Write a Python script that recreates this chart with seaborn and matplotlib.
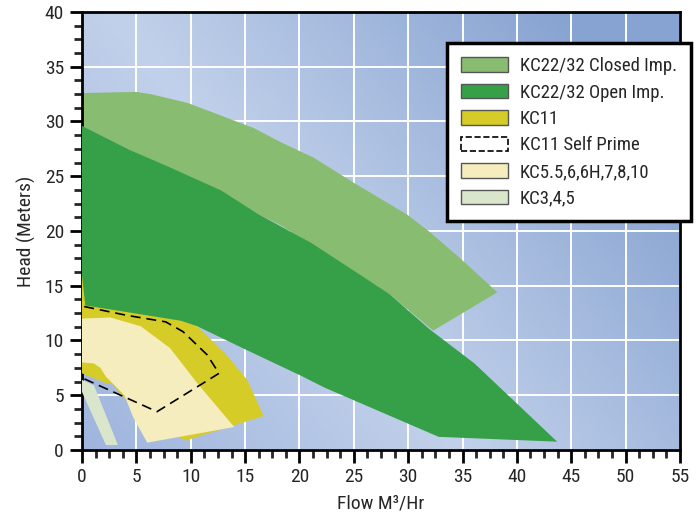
import numpy as np
import matplotlib
matplotlib.use("Agg")
import matplotlib.pyplot as plt
from matplotlib import font_manager
import seaborn as sns
from matplotlib.patches import Patch
from matplotlib.ticker import MultipleLocator

sns.set_style("white")
# pick a narrow sans if one is around
installed = {f.name for f in font_manager.fontManager.ttflist}
narrow = [n for n in ['Roboto Condensed', 'Liberation Sans Narrow', 'Open Sans Condensed',
                      'Liberation Sans'] if n in installed]
plt.rcParams['font.family'] = narrow[:1] + ['DejaVu Sans']

# pump curve envelopes (flow m3/hr, head m)
closed_x = [0, 5.0, 6.3, 9.7, 12.1, 15.8, 18.3, 21.3, 25.0, 29.9, 32.0, 34.9, 38.2,
            32.3, 28.2, 18.3, 0]
closed_y = [32.6, 32.7, 32.5, 31.7, 30.8, 29.4, 28.1, 26.7, 24.4, 21.5, 19.9, 17.4, 14.4,
            10.9, 14.3, 20.5, 29.6]

open_x = [0, 4.4, 8.1, 12.8, 16.1, 21.1, 28.2, 32.0, 36.1, 43.7, 32.8, 22.3, 20.1,
          15.2, 10.6, 0]
open_y = [29.6, 27.4, 25.8, 23.7, 21.6, 18.9, 14.3, 11.0, 7.9, 0.76, 1.2, 5.7, 6.8,
          9.1, 11.3, 13.2]

kc11_x = [0, 0.3, 9.1, 10.6, 13.1, 15.2, 16.7, 9.5, 5.0, 2.8, 2.2, 0]
kc11_y = [16.0, 13.2, 11.8, 11.3, 8.9, 6.4, 3.1, 0.85, 3.5, 6.0, 6.1, 7.0]

prime_x = [0.2, 4.1, 7.7, 9.3, 11.5, 12.6, 6.9, 0.2]
prime_y = [13.1, 12.3, 11.7, 10.8, 8.7, 7.0, 3.5, 6.5]

kc55_x = [0, 2.6, 5.4, 8.1, 10.6, 14.0, 6.0, 4.7, 3.9, 2.2, 1.7, 1.1, 0]
kc55_y = [12.0, 12.1, 11.3, 9.3, 6.1, 2.1, 0.67, 3.0, 5.0, 6.7, 7.5, 7.9, 8.0]

kc3_x = [0, 1.1, 3.3, 2.2, 0]
kc3_y = [6.4, 5.9, 0.45, 0.45, 5.3]

labels = ['KC22/32 Closed Imp.', 'KC22/32 Open Imp.', 'KC11', 'KC11 Self Prime',
          'KC5.5,6,6H,7,8,10', 'KC3,4,5']
colors = ['#88bd71', '#35a048', '#d6cc28', 'none', '#f6edbf', '#d9e6cc']

fig = plt.figure(figsize=(6.98, 5.21), dpi=100)
ax = fig.add_axes([0.1175, 0.1363, 0.8567, 0.8407])

# blue gradient background with light diagonal band
gx, gy = np.meshgrid(np.linspace(0, 1, 300), np.linspace(0, 1, 300))
d = gx + 0.585 * gy - 0.64
light = np.array([0.76, 0.82, 0.92])
dark_tr = np.array([0.53, 0.64, 0.82])
dark_bl = np.array([0.60, 0.69, 0.86])
w = np.clip(np.abs(d) / 0.75, 0, 1)[..., None]
far = np.where(d[..., None] > 0, dark_tr, dark_bl)
bg = light * (1 - w) + far * w
ax.imshow(bg, extent=[0, 55, 0, 40], origin='lower', aspect='auto', zorder=0)

ax.set_xlim(0, 55)
ax.set_ylim(0, 40)
ax.set_axisbelow(True)
ax.grid(True, color='white', linewidth=1.4, zorder=1)

ax.fill(closed_x, closed_y, color=colors[0], lw=0, zorder=2)
ax.fill(open_x, open_y, color=colors[1], lw=0, zorder=3)
ax.fill(kc11_x, kc11_y, color=colors[2], lw=0, zorder=4)
ax.fill(kc55_x, kc55_y, color=colors[4], lw=0, zorder=5)
ax.fill(kc3_x, kc3_y, color=colors[5], lw=0, zorder=5)
sns.lineplot(x=prime_x, y=prime_y, sort=False, estimator=None, ax=ax,
             color='black', lw=1.2, dashes=False, zorder=6)
ax.lines[-1].set_dashes([6, 3.5])

ax.xaxis.set_major_locator(MultipleLocator(5))
ax.xaxis.set_minor_locator(MultipleLocator(1.25))
ax.yaxis.set_major_locator(MultipleLocator(5))
ax.yaxis.set_minor_locator(MultipleLocator(1.25))
ax.tick_params(which='major', direction='out', length=9, width=2, labelsize=14,
               color='black', bottom=True, left=True, pad=4)
ax.tick_params(which='minor', direction='out', length=6, width=2,
               bottom=True, left=True)
for s in ax.spines.values():
    s.set_color('black')
    s.set_linewidth(2)

ax.set_xlabel('Flow M³/Hr', fontsize=14, labelpad=6)
ax.set_ylabel('Head (Meters)', fontsize=14, labelpad=6)

handles = []
for lab, c in zip(labels, colors):
    if c == 'none':
        handles.append(Patch(facecolor='white', edgecolor='black', linestyle='--',
                             linewidth=1.2, label=lab))
    else:
        handles.append(Patch(facecolor=c, edgecolor='#555555', linewidth=1, label=lab))
leg = ax.legend(handles=handles, loc='upper right', bbox_to_anchor=(1.018, 0.929),
                borderaxespad=0, fontsize=13.5, frameon=True, fancybox=False,
                framealpha=1, edgecolor='black', handlelength=2.5, handleheight=0.8,
                labelspacing=0.45, borderpad=0.75, handletextpad=0.6)
leg.get_frame().set_linewidth(2.5)
leg.set_zorder(10)

fig.savefig('out.png', dpi=100)
